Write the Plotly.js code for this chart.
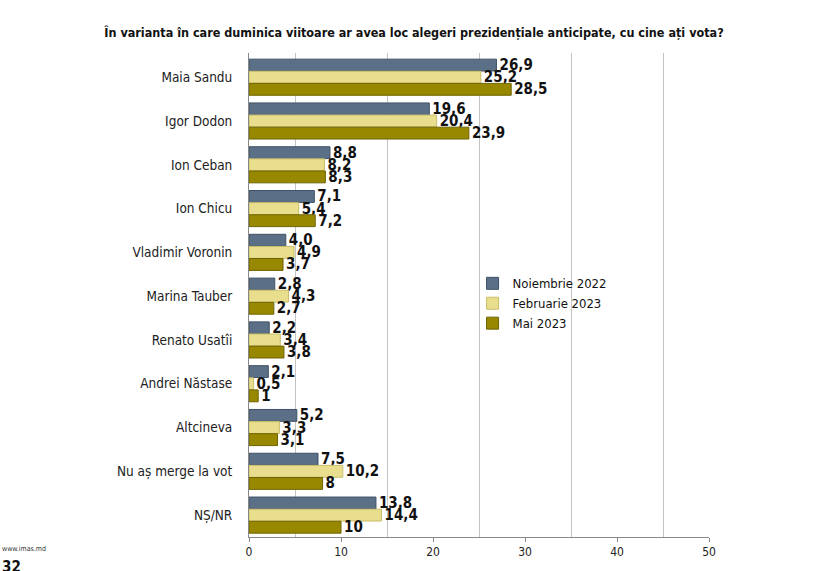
<!DOCTYPE html>
<html>
<head>
<meta charset="utf-8">
<script src="https://cdn.plot.ly/plotly-3.0.1.min.js"></script>
<style>
  html, body { margin: 0; padding: 0; background: #fff; }
  #chart { width: 828px; height: 571px; }
</style>
</head>
<body>
<div id="chart"></div>
<script>
"use strict";

const candidates = [
  "Maia Sandu", "Igor Dodon", "Ion Ceban", "Ion Chicu", "Vladimir Voronin",
  "Marina Tauber", "Renato Usatîi", "Andrei Năstase", "Altcineva",
  "Nu aș merge la vot", "NȘ/NR",
];

const seriesNames = ["Noiembrie 2022", "Februarie 2023", "Mai 2023"];

const nov2022 = [26.9, 19.6, 8.8, 7.1, 4.0, 2.8, 2.2, 2.1, 5.2, 7.5, 13.8];
const feb2023 = [25.2, 20.4, 8.2, 5.4, 4.9, 4.3, 3.4, 0.5, 3.3, 10.2, 14.4];
const mai2023 = [28.5, 23.9, 8.3, 7.2, 3.7, 2.7, 3.8, 1, 3.1, 8, 10];

// labels as printed on the slide (some keep ",0", some don't)
const nov2022Labels = ["26,9", "19,6", "8,8", "7,1", "4,0", "2,8", "2,2", "2,1", "5,2", "7,5", "13,8"];
const feb2023Labels = ["25,2", "20,4", "8,2", "5,4", "4,9", "4,3", "3,4", "0,5", "3,3", "10,2", "14,4"];
const mai2023Labels = ["28,5", "23,9", "8,3", "7,2", "3,7", "2,7", "3,8", "1", "3,1", "8", "10"];

const xTicks = [0, 10, 20, 30, 40, 50];

const FONT = "'Liberation Sans Narrow', 'Arial Narrow', 'DejaVu Sans Condensed', sans-serif";
const COLORS = ["#5b7086", "#e9de8e", "#978800"];
const EDGES = ["#3f5267", "#c9bd6a", "#6f6400"];

const series = [nov2022, feb2023, mai2023];
const labels = [nov2022Labels, feb2023Labels, mai2023Labels];

const traces = series.map((vals, i) => ({
  type: "bar",
  orientation: "h",
  name: seriesNames[i],
  y: candidates,
  x: vals,
  text: labels[i],
  textposition: "outside",
  constraintext: "none",
  cliponaxis: false,
  textfont: { family: FONT, size: 15, color: "#111" },
  texttemplate: "<b>%{text}</b>",
  marker: { color: COLORS[i], line: { color: EDGES[i], width: 1 } },
  hoverinfo: "skip",
}));

// invisible helper trace so the offset grid axis (5, 15, 25 ...) gets drawn
traces.push({
  type: "scatter",
  x: [0, 50],
  y: [candidates[0], candidates[0]],
  xaxis: "x2",
  mode: "none",
  showlegend: false,
  hoverinfo: "skip",
});

const layout = {
  width: 828,
  height: 571,
  paper_bgcolor: "#fff",
  plot_bgcolor: "#fff",
  font: { family: FONT, size: 13, color: "#222" },
  margin: { l: 249, r: 119, t: 53, b: 34 },
  title: {
    text: "<b>În varianta în care duminica viitoare ar avea loc alegeri prezidențiale anticipate, cu cine ați vota?</b>",
    font: { family: FONT, size: 12.5, color: "#111" },
    x: 0.5,
    xanchor: "center",
    xref: "container",
    y: 1 - 33 / 571,
    yref: "container",
    yanchor: "middle",
  },
  barmode: "group",
  bargap: 0.17,
  bargroupgap: 0.02,
  xaxis: {
    range: [0, 50],
    tickvals: xTicks,
    ticktext: xTicks.map(String),
    showgrid: false,
    zeroline: false,
    showline: true,
    linecolor: "#888",
    ticks: "outside",
    ticklen: 4,
    tickcolor: "#888",
    tickfont: { family: FONT, size: 12, color: "#222" },
    fixedrange: true,
  },
  xaxis2: {
    overlaying: "x",
    range: [0, 50],
    tick0: 5,
    dtick: 10,
    showgrid: true,
    gridcolor: "#c4c4c4",
    gridwidth: 1,
    showticklabels: false,
    zeroline: false,
    side: "bottom",
  },
  yaxis: {
    autorange: "reversed",
    showline: true,
    linecolor: "#888",
    ticks: "",
    ticklabelstandoff: 13,
    tickfont: { family: FONT, size: 13.5, color: "#222" },
    showgrid: false,
    fixedrange: true,
  },
  legend: {
    x: 0.486,
    xanchor: "left",
    y: 0.555,
    yanchor: "top",
    font: { family: FONT, size: 13, color: "#111" },
    bgcolor: "rgba(255,255,255,0)",
    tracegroupgap: 0,
    itemwidth: 30,
  },
  annotations: [
    {
      text: "www.imas.md",
      xref: "paper",
      yref: "paper",
      x: -249 / 460,
      y: -12 / 484,
      xanchor: "left",
      yanchor: "middle",
      showarrow: false,
      font: { family: FONT, size: 7, color: "#333" },
    },
    {
      text: "<b>32</b>",
      xref: "paper",
      yref: "paper",
      x: -249 / 460,
      y: -30 / 484,
      xanchor: "left",
      yanchor: "middle",
      showarrow: false,
      font: { family: FONT, size: 15, color: "#111" },
    },
  ],
  showlegend: true,
};

Plotly.newPlot("chart", traces, layout, { displayModeBar: false, staticPlot: true });
</script>
</body>
</html>
